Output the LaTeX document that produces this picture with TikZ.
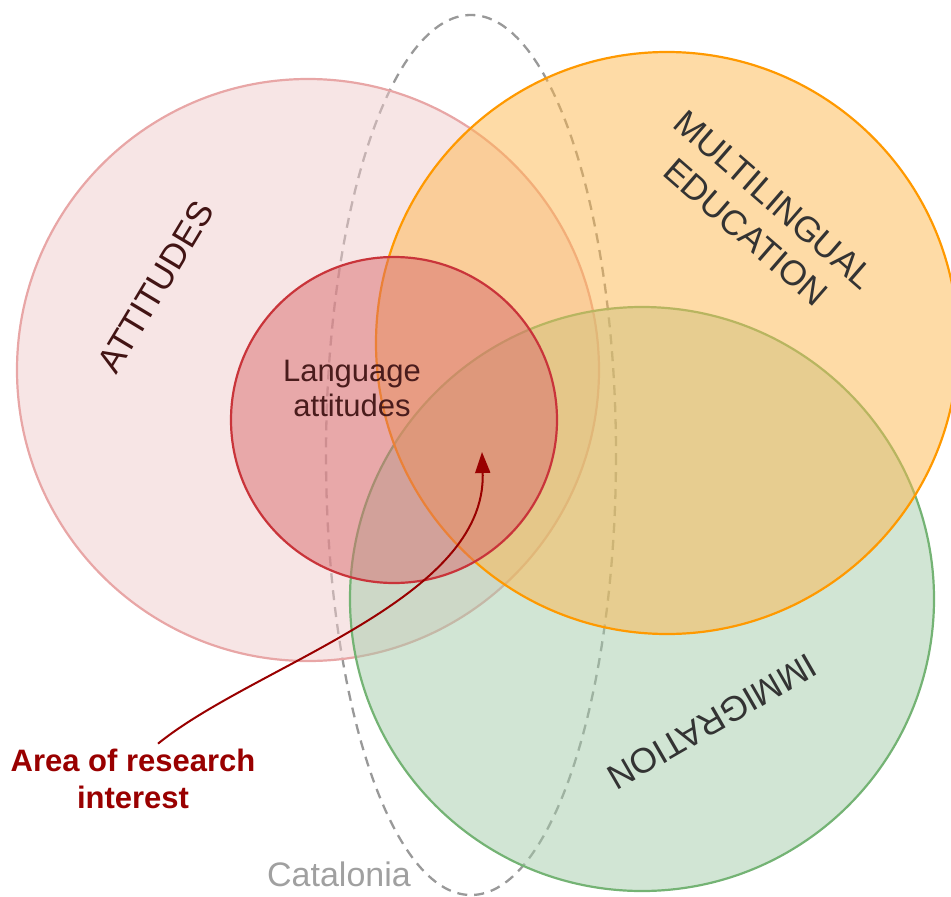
\documentclass[tikz,border=0pt]{standalone}
\usepackage{fontspec}
\setmainfont{Liberation Sans}
\usetikzlibrary{arrows.meta}

% circle colours (fills are laid down at half opacity)
\definecolor{attfill}{HTML}{F0CBCB}
\definecolor{attline}{HTML}{E8A6A6}
\definecolor{edufill}{HTML}{FDB74D}
\definecolor{eduline}{HTML}{FF9900}
\definecolor{immfill}{HTML}{A3CBA9}
\definecolor{immline}{HTML}{74B374}
\definecolor{langfill}{HTML}{D86B6F}
\definecolor{langline}{HTML}{C9343A}
\definecolor{catline}{HTML}{999999}
\definecolor{cattext}{HTML}{A0A0A0}
\definecolor{darkmaroon}{HTML}{421414}
\definecolor{langtext}{HTML}{4A1C1C}
\definecolor{labelgray}{HTML}{333333}
\definecolor{research}{HTML}{990000}

\begin{document}
\begin{tikzpicture}[x=1pt,y=-1pt,
  region/.style={line width=2.2pt, fill opacity=0.5},
  bigword/.style={inner sep=0pt, font=\fontsize{35}{43}\selectfont, align=center},
  smallword/.style={inner sep=0pt, font=\fontsize{31}{35}\selectfont, align=center},
  pointer/.style={draw=research, line width=2pt, -{Triangle[length=21pt,width=15pt]}}]

\useasboundingbox (0,0) rectangle (951,897);
\clip (0,0) rectangle (951,897);

% Catalonia outline
\draw[catline, line width=2.3pt, dash pattern=on 10pt off 7pt]
  (471,455) ellipse [x radius=145, y radius=440];

% overlapping fields
\path[region, fill=attfill, draw=attline] (308,370) circle [radius=291];
\path[region, fill=immfill, draw=immline] (642,599) circle [radius=292];
\path[region, fill=edufill, draw=eduline] (667,343) circle [radius=291];
\path[region, fill=langfill, draw=langline] (394,420) circle [radius=163];

% labels
\node[bigword, text=darkmaroon, rotate=59] (attitudes) at (156,287) {ATTITUDES};
\node[bigword, text=labelgray, rotate=-41] (education) at (760,216) {MULTILINGUAL\\EDUCATION};
\node[bigword, text=labelgray, rotate=210] (immigration) at (712,722) {IMMIGRATION};
\node[smallword, text=langtext] (language) at (352,388) {Language\\attitudes};
\node[inner sep=0pt, text=cattext, font=\fontsize{34}{40}\selectfont] (catalonia) at (339,874) {Catalonia};
\node[smallword, text=research, font=\fontsize{31}{37.5}\selectfont\bfseries] (area) at (133,779) {Area of research\\interest};

% pointer into the shared area
\coordinate (target) at (482,452);
\draw[pointer] ([shift={(25pt,5pt)}]area.north) .. controls (255,665) and (487,600) .. (target);
\end{tikzpicture}
\end{document}
